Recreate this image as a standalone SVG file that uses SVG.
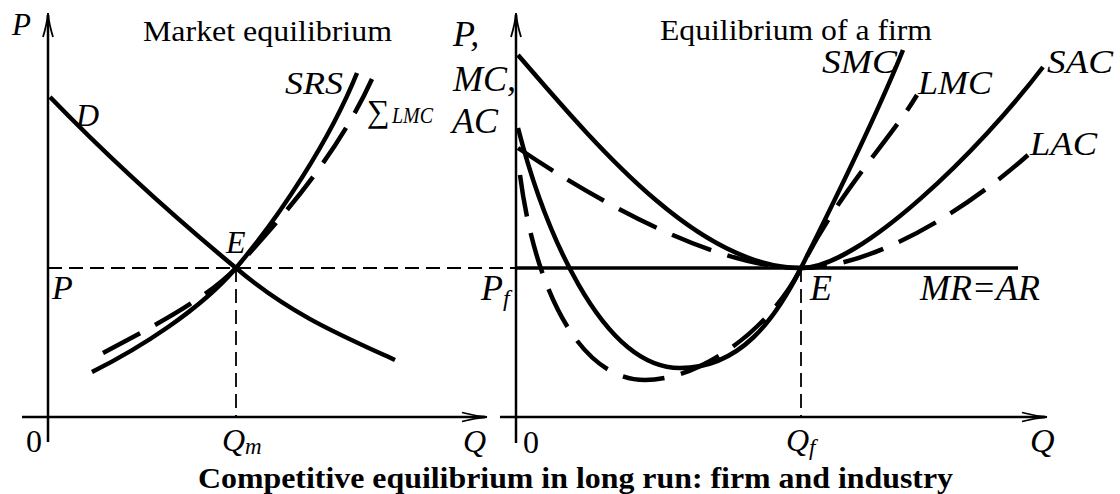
<svg xmlns="http://www.w3.org/2000/svg" width="1120" height="494" viewBox="0 0 1120 494">
<style>
.axis{stroke:#000;stroke-width:2.5;fill:none}
.guide{stroke:#000;stroke-width:1.8;fill:none;stroke-dasharray:14 7}
.solid{stroke:#000;stroke-width:4.5;fill:none}
.dash{stroke:#000;stroke-width:4.5;fill:none;stroke-dasharray:42 17}
.head{stroke:#000;stroke-width:1.8;fill:none}
</style>
<rect width="1120" height="494" fill="#fff"/>
<g id="market-axes">
<line class="axis" x1="48" y1="442" x2="48" y2="15"/>
<path class="head" d="M43,37 Q47,24 48,13 Q49,24 53,37"/>
<line class="axis" x1="22" y1="417" x2="485" y2="417"/>
<path class="head" d="M462,412.5 Q475,416 487,417 Q475,418 462,421.5"/>
</g>
<g id="firm-axes">
<line class="axis" x1="516" y1="443" x2="516" y2="15"/>
<path class="head" d="M511,37 Q515,24 516,13 Q517,24 521,37"/>
<line class="axis" x1="500" y1="417" x2="1045" y2="417"/>
<path class="head" d="M1022,412.5 Q1035,416 1047,417 Q1035,418 1022,421.5"/>
</g>
<g id="guides">
<line class="guide" x1="48" y1="268" x2="516" y2="268"/>
<line class="guide" x1="236" y1="268" x2="236" y2="417"/>
<line class="guide" x1="801" y1="268" x2="801" y2="417"/>
</g>
<g id="market-curves">
<path id="D" class="solid" d="M50,97 C108,157 178,220 236,268 C290,314 340,335 395,360"/>
<path id="SRS" class="solid" d="M92,372 C140,348 200,310 236,268 C280,216 330,140 357,73"/>
<path id="SumLMC" class="dash" d="M103,353 C150,328 205,300 236,268 C275,225 335,160 372,79"/>
</g>
<g id="firm-curves">
<line id="MRAR" x1="516" y1="268" x2="1018" y2="268" stroke="#000" stroke-width="3.5"/>
<path id="SAC" class="solid" d="M518,55 C600,150 700,268 801,268 C860,268 980,150 1043,67"/>
<path id="LAC" class="dash" d="M518,148 C595,200 715,268 801,268 C870,268 960,215 1028,155"/>
<path id="SMC" class="solid" d="M518,128 C543,225 600,368 680,368 C740,368 775,320 801,268 C830,210 875,120 903,50"/>
<path id="LMC" class="dash" d="M520,175 C535,290 580,380 645,380 C700,380 770,330 801,268 C840,190 890,140 917,95"/>
</g>
<g id="market-labels" font-family="Liberation Serif, Times New Roman, serif" fill="#000">
<text x="12" y="35" font-size="31" font-style="italic">P</text>
<text x="143" y="41" font-size="30" textLength="249" lengthAdjust="spacingAndGlyphs">Market equilibrium</text>
<text x="76" y="126" font-size="32" font-style="italic">D</text>
<text x="285" y="94" font-size="32" font-style="italic" textLength="58" lengthAdjust="spacingAndGlyphs">SRS</text>
<text x="367" y="122" font-size="32">∑</text>
<text x="392" y="123" font-size="24" font-style="italic" textLength="41" lengthAdjust="spacingAndGlyphs">LMC</text>
<text x="226" y="253" font-size="32" font-style="italic">E</text>
<text x="52" y="299" font-size="34" font-style="italic">P</text>
<text x="26" y="452" font-size="32">0</text>
<text x="222" y="451" font-size="32" font-style="italic">Q<tspan font-size="23" dy="3">m</tspan></text>
<text x="463" y="452" font-size="32" font-style="italic">Q</text>
</g>
<g id="firm-labels" font-family="Liberation Serif, Times New Roman, serif" fill="#000">
<text x="660" y="40" font-size="30" textLength="272" lengthAdjust="spacingAndGlyphs">Equilibrium of a firm</text>
<text x="453" y="46" font-size="36" font-style="italic">P,</text>
<text x="453" y="91" font-size="36" font-style="italic">MC,</text>
<text x="452" y="133" font-size="36" font-style="italic">AC</text>
<text x="822" y="73" font-size="34" font-style="italic" textLength="75" lengthAdjust="spacingAndGlyphs">SMC</text>
<text x="918" y="94" font-size="34" font-style="italic" textLength="74" lengthAdjust="spacingAndGlyphs">LMC</text>
<text x="1047" y="73" font-size="34" font-style="italic" textLength="66" lengthAdjust="spacingAndGlyphs">SAC</text>
<text x="1030" y="155" font-size="34" font-style="italic" textLength="67" lengthAdjust="spacingAndGlyphs">LAC</text>
<text x="481" y="300" font-size="36" font-style="italic">P<tspan font-size="24" dy="6">f</tspan></text>
<text x="810" y="300" font-size="36" font-style="italic">E</text>
<text x="920" y="300" font-size="36" font-style="italic" textLength="120" lengthAdjust="spacingAndGlyphs">MR=AR</text>
<text x="523" y="453" font-size="32">0</text>
<text x="786" y="451" font-size="32" font-style="italic">Q<tspan font-size="23" dy="4">f</tspan></text>
<text x="1030" y="452" font-size="34" font-style="italic">Q</text>
</g>
<g id="caption" font-family="Liberation Serif, Times New Roman, serif" fill="#000">
<text x="198" y="488" font-size="30" font-weight="bold" textLength="755" lengthAdjust="spacingAndGlyphs">Competitive equilibrium in long run: firm and industry</text>
</g>
</svg>
